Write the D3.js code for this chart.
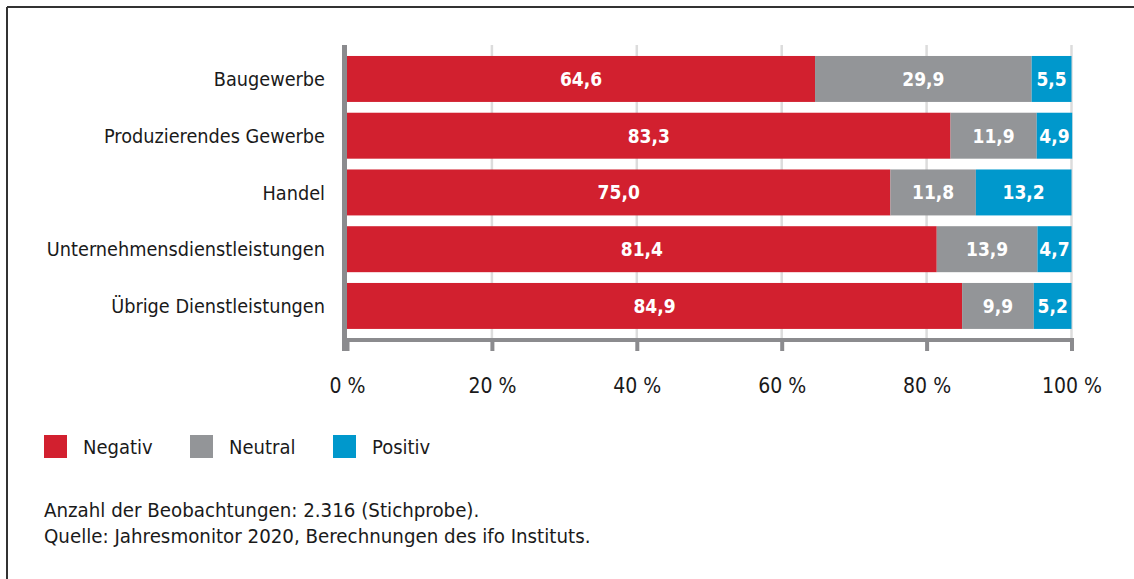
<!DOCTYPE html>
<html>
<head>
<meta charset="utf-8">
<script src="https://cdn.jsdelivr.net/npm/d3@7"></script>
<style>
  body { margin: 0; background: #fff; }
  svg text { font-family: "DejaVu Sans Condensed", "Liberation Sans Narrow", "Noto Sans", sans-serif; }
</style>
</head>
<body>
<div id="chart"></div>
<script>
// categories and shares (in %) per answer
const categories = ["Baugewerbe", "Produzierendes Gewerbe", "Handel", "Unternehmensdienstleistungen", "Übrige Dienstleistungen"];
const negativ = [64.6, 83.3, 75.0, 81.4, 84.9];
const neutral = [29.9, 11.9, 11.8, 13.9, 9.9];
const positiv = [5.5, 4.9, 13.2, 4.7, 5.2];
const seriesNames = ["Negativ", "Neutral", "Positiv"];
const tickValues = [0, 20, 40, 60, 80, 100];
const notes = ["Anzahl der Beobachtungen: 2.316 (Stichprobe).", "Quelle: Jahresmonitor 2020, Berechnungen des ifo Instituts."];

const colors = { Negativ: "#d2202f", Neutral: "#939598", Positiv: "#0098cc" };
const axisColor = "#8b8b8e";

const width = 1134, height = 579;
const svg = d3.select("#chart").append("svg").attr("width", width).attr("height", height);

// frame (only top and left edge visible)
svg.append("line").attr("x1", 7).attr("x2", width).attr("y1", 7).attr("y2", 7)
  .attr("stroke", "#333").attr("stroke-width", 2);
svg.append("line").attr("x1", 7).attr("x2", 7).attr("y1", 7).attr("y2", height)
  .attr("stroke", "#333").attr("stroke-width", 2);

const x = d3.scaleLinear().domain([0, 100]).range([347, 1071.5]);
const y = d3.scaleBand().domain(categories).range([50.3, 334.6]).paddingInner(0.19).paddingOuter(0.1);

// table for stacking
const rows = categories.map((c, i) => ({ cat: c, Negativ: negativ[i], Neutral: neutral[i], Positiv: positiv[i] }));
const stacked = d3.stack().keys(seriesNames)(rows);

// gridlines
svg.append("g").selectAll("line")
  .data(tickValues.slice(1))
  .enter().append("line")
  .attr("x1", d => x(d)).attr("x2", d => x(d))
  .attr("y1", 45).attr("y2", 340)
  .attr("stroke", "#dcdcdc").attr("stroke-width", 2.5);

// bars
const layer = svg.append("g").selectAll("g")
  .data(stacked)
  .enter().append("g")
  .attr("fill", d => colors[d.key]);

layer.selectAll("rect")
  .data(d => d)
  .enter().append("rect")
  .attr("x", d => x(d[0]))
  .attr("width", d => x(d[1]) - x(d[0]))
  .attr("y", d => y(d.data.cat))
  .attr("height", y.bandwidth());

// value labels
const fmt = v => v.toFixed(1).replace(".", ",");
layer.selectAll("text")
  .data(d => d)
  .enter().append("text")
  .attr("x", d => (x(d[0]) + x(d[1])) / 2)
  .attr("y", d => y(d.data.cat) + y.bandwidth() / 2)
  .attr("dy", "0.36em")
  .attr("text-anchor", "middle")
  .attr("fill", "#fff")
  .attr("font-weight", "bold")
  .attr("font-size", "19px")
  .text(d => fmt(d[1] - d[0]));

// category labels
svg.append("g").selectAll("text")
  .data(categories)
  .enter().append("text")
  .attr("x", 325)
  .attr("y", d => y(d) + y.bandwidth() / 2)
  .attr("dy", "0.36em")
  .attr("text-anchor", "end")
  .attr("fill", "#1a1a1a")
  .attr("font-size", "19.7px")
  .text(d => d);

// x axis
const xAxis = svg.append("g").attr("transform", "translate(0,340)")
  .call(d3.axisBottom(x).tickValues(tickValues).tickSize(11).tickPadding(27).tickFormat(d => d + " %"));
xAxis.select(".domain").attr("stroke", axisColor).attr("stroke-width", 4).attr("d", "M342,0H1074");
xAxis.selectAll(".tick line").attr("stroke", axisColor).attr("stroke-width", 4);
xAxis.selectAll(".tick text").attr("fill", "#1a1a1a").attr("font-size", "21px")
  .attr("font-family", "\"DejaVu Sans Condensed\", \"Liberation Sans Narrow\", sans-serif");

// left axis line
svg.append("line").attr("x1", 344.5).attr("x2", 344.5).attr("y1", 45).attr("y2", 351)
  .attr("stroke", axisColor).attr("stroke-width", 5);

// legend
const legendX = [44, 190, 333];
const legend = svg.append("g").selectAll("g")
  .data(seriesNames)
  .enter().append("g")
  .attr("transform", (d, i) => `translate(${legendX[i]},435)`);
legend.append("rect").attr("width", 23).attr("height", 23).attr("fill", d => colors[d]);
legend.append("text").attr("x", 39).attr("y", 11.5).attr("dy", "0.36em")
  .attr("font-size", "20px").attr("fill", "#1a1a1a").text(d => d);

// notes
svg.append("g").selectAll("text")
  .data(notes)
  .enter().append("text")
  .attr("x", 44)
  .attr("y", (d, i) => 517 + i * 26)
  .attr("font-size", "20.3px").attr("fill", "#1a1a1a")
  .text(d => d);
</script>
</body>
</html>
